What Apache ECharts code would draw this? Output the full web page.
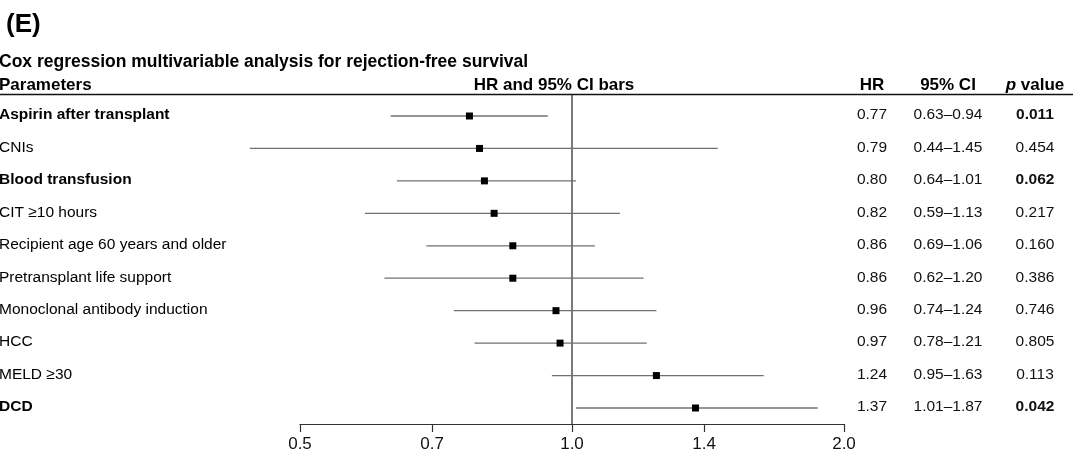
<!DOCTYPE html>
<html>
<head>
<meta charset="utf-8">
<script src="https://cdn.jsdelivr.net/npm/echarts@6/dist/echarts.min.js"></script>
<style>
html,body{margin:0;padding:0;background:#fff;}
#c{width:1073px;height:456px;}
</style>
</head>
<body>
<div id="c"></div>
<script>
// ---- data ----
var parameters = ['Aspirin after transplant','CNIs','Blood transfusion','CIT \u226510 hours','Recipient age 60 years and older','Pretransplant life support','Monoclonal antibody induction','HCC','MELD \u226530','DCD'];
var hrValues = [0.77,0.79,0.80,0.82,0.86,0.86,0.96,0.97,1.24,1.37];
var ciLower = [0.63,0.44,0.64,0.59,0.69,0.62,0.74,0.78,0.95,1.01];
var ciUpper = [0.94,1.45,1.01,1.13,1.06,1.20,1.24,1.21,1.63,1.87];
var pValues = ['0.011','0.454','0.062','0.217','0.160','0.386','0.746','0.805','0.113','0.042'];
var highlighted = [true,false,true,false,false,false,false,false,false,true];
var xTicks = [0.5,0.7,1.0,1.4,2.0];
var refValue = 1.0;

var FONT = '"Liberation Sans", Arial, Helvetica, sans-serif';
var Y_MIN = -0.647, Y_MAX = 9.493;
var COL_HR = 872, COL_CI = 948, COL_P = 1035;

var rows = parameters.map(function(name, i){
  return [hrValues[i], i, ciLower[i], ciUpper[i]];
});

var chart = echarts.init(document.getElementById('c'), null, {renderer:'canvas'});
chart.setOption({
  animation:false,
  backgroundColor:'#fff',
  grid:{left:300, right:229, top:95, bottom:32, containLabel:false},
  xAxis:{
    type:'log', logBase:10, min:xTicks[0], max:xTicks[xTicks.length-1],
    axisLine:{show:true, onZero:false, lineStyle:{color:'#333', width:1.2}},
    axisTick:{show:true, length:8, customValues:xTicks, lineStyle:{color:'#333', width:1.2}},
    axisLabel:{customValues:xTicks, margin:12, fontSize:17, color:'#111', fontFamily:FONT,
      formatter:function(v){return Number(v).toFixed(1);}},
    splitLine:{show:false}
  },
  yAxis:{type:'value', inverse:true, min:Y_MIN, max:Y_MAX, show:false},
  graphic:[
    {type:'text', left:6, top:12, style:{text:'(E)', font:'bold 26px '+FONT, fill:'#000'}},
    {type:'text', x:-1, y:62, style:{text:'Cox regression multivariable analysis for rejection-free survival', font:'bold 17.5px '+FONT, fill:'#000', verticalAlign:'middle'}},
    {type:'text', x:-1, y:85, style:{text:'Parameters', font:'bold 17px '+FONT, fill:'#000', verticalAlign:'middle'}},
    {type:'text', x:554, y:85, style:{text:'HR and 95% CI bars', font:'bold 17px '+FONT, fill:'#000', align:'center', verticalAlign:'middle'}},
    {type:'text', x:COL_HR, y:85, style:{text:'HR', font:'bold 17px '+FONT, fill:'#000', align:'center', verticalAlign:'middle'}},
    {type:'text', x:COL_CI, y:85, style:{text:'95% CI', font:'bold 17px '+FONT, fill:'#000', align:'center', verticalAlign:'middle'}},
    {type:'text', x:COL_P, y:85, style:{text:'{i|p} value', font:'bold 17px '+FONT, fill:'#000', align:'center', verticalAlign:'middle',
      rich:{i:{fontStyle:'italic', fontWeight:'bold', fontSize:17, fontFamily:FONT}}}},
    {type:'line', shape:{x1:0, y1:94.5, x2:1073, y2:94.5}, style:{stroke:'#111', lineWidth:1.3}}
  ],
  series:[
    {
      type:'line', data:[[refValue, Y_MIN],[refValue, Y_MAX]], symbol:'none', silent:true,
      lineStyle:{color:'#333', width:1.3}, z:1
    },
    {
      type:'custom', data:rows, z:3,
      encode:{x:[0,2,3], y:1},
      renderItem:function(params, api){
        var i = api.value(1);
        var c = api.coord([api.value(0), i]);
        var l = api.coord([api.value(2), i]);
        var h = api.coord([api.value(3), i]);
        var y = c[1];
        var bold = highlighted[i];
        var s = 7;
        return {type:'group', children:[
          {type:'line', shape:{x1:l[0], y1:y, x2:h[0], y2:y}, style:{stroke:'#707070', lineWidth:1.3}},
          {type:'rect', shape:{x:c[0]-s/2, y:y-s/2, width:s, height:s}, style:{fill:'#000'}},
          {type:'text', x:-1, y:y-1, style:{text:parameters[i], font:(bold?'bold ':'')+'15.5px '+FONT, fill:'#000', verticalAlign:'middle'}},
          {type:'text', x:COL_HR, y:y-1, style:{text:hrValues[i].toFixed(2), font:'15.5px '+FONT, fill:'#111', align:'center', verticalAlign:'middle'}},
          {type:'text', x:COL_CI, y:y-1, style:{text:ciLower[i].toFixed(2)+'\u2013'+ciUpper[i].toFixed(2), font:'15.5px '+FONT, fill:'#111', align:'center', verticalAlign:'middle'}},
          {type:'text', x:COL_P, y:y-1, style:{text:pValues[i], font:(bold?'bold ':'')+'15.5px '+FONT, fill:'#111', align:'center', verticalAlign:'middle'}}
        ]};
      }
    }
  ]
});
</script>
</body>
</html>
